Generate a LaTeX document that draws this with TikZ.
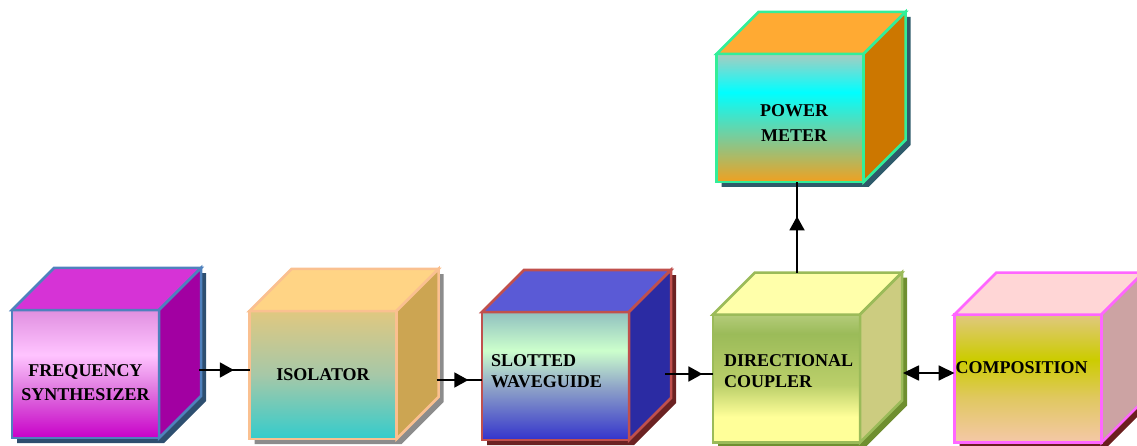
\documentclass[tikz,border=0pt]{standalone}
\usepackage{fontspec}
\setmainfont{Liberation Serif}
\usepackage{tikz}
\usetikzlibrary{arrows.meta,decorations.markings}

\pgfdeclarelayer{back}
\pgfsetlayers{back,main}

% face colours
\definecolor{fsynline}{HTML}{4F81BD}
\definecolor{fsyntop}{HTML}{D633D6}
\definecolor{fsynside}{HTML}{A200A2}
\definecolor{fsynshadow}{HTML}{2E4F70}
\definecolor{isoline}{HTML}{FAC090}
\definecolor{isotop}{HTML}{FFD485}
\definecolor{isoside}{HTML}{CCA552}
\definecolor{isoshadow}{HTML}{8C8C8C}
\definecolor{slotline}{HTML}{C0504D}
\definecolor{slottop}{HTML}{5A5AD6}
\definecolor{slotside}{HTML}{2B2BA3}
\definecolor{slotshadow}{HTML}{6B2222}
\definecolor{coupline}{HTML}{9BBB59}
\definecolor{couptop}{HTML}{FFFFAA}
\definecolor{coupside}{HTML}{CCCC80}
\definecolor{coupshadow}{HTML}{6F8F30}
\definecolor{compline}{HTML}{FF66FF}
\definecolor{comptop}{HTML}{FFD6D6}
\definecolor{compside}{HTML}{CCA3A3}
\definecolor{compshadow}{HTML}{6B1F1F}
\definecolor{pwrline}{HTML}{33EE99}
\definecolor{pwrtop}{HTML}{FFAA33}
\definecolor{pwrside}{HTML}{CC7700}
\definecolor{pwrshadow}{HTML}{2E5A6A}

% gradient stops
\definecolor{magenta1}{HTML}{C800C8}
\definecolor{magenta2}{HTML}{E27EE2}
\definecolor{magenta3}{HTML}{FFC4FF}
\definecolor{magenta4}{HTML}{E08FE0}
\definecolor{teal1}{HTML}{33CCCC}
\definecolor{teal2}{HTML}{A6C8A8}
\definecolor{tan1}{HTML}{E0C880}
\definecolor{blue1}{HTML}{3333CC}
\definecolor{blue2}{HTML}{8CA0C8}
\definecolor{mint1}{HTML}{CCFFCC}
\definecolor{mint2}{HTML}{90C0C0}
\definecolor{yellow1}{HTML}{FFFF99}
\definecolor{olive1}{HTML}{BBCF6A}
\definecolor{olive2}{HTML}{9BBB59}
\definecolor{olive3}{HTML}{B4CC7A}
\definecolor{peach1}{HTML}{F5C8A8}
\definecolor{gold1}{HTML}{E0C860}
\definecolor{gold2}{HTML}{CCCC00}
\definecolor{orange1}{HTML}{F0A020}
\definecolor{aqua1}{HTML}{7ACC9A}
\definecolor{aqua2}{HTML}{00FFFF}
\definecolor{aqua3}{HTML}{A8CCC0}

% front face gradients (bottom = 25bp, top = 75bp)
\pgfdeclareverticalshading{fsynshade}{100bp}{color(0bp)=(magenta1); color(25bp)=(magenta1);
  color(45bp)=(magenta2); color(57.5bp)=(magenta3); color(75bp)=(magenta4); color(100bp)=(magenta4)}
\pgfdeclareverticalshading{isoshade}{100bp}{color(0bp)=(teal1); color(25bp)=(teal1);
  color(50bp)=(teal2); color(75bp)=(tan1); color(100bp)=(tan1)}
\pgfdeclareverticalshading{slotshade}{100bp}{color(0bp)=(blue1); color(25bp)=(blue1);
  color(45bp)=(blue2); color(60bp)=(mint1); color(75bp)=(mint2); color(100bp)=(mint2)}
\pgfdeclareverticalshading{coupshade}{100bp}{color(0bp)=(yellow1); color(35bp)=(yellow1);
  color(47.5bp)=(olive1); color(67.5bp)=(olive2); color(75bp)=(olive3); color(100bp)=(olive3)}
\pgfdeclareverticalshading{compshade}{100bp}{color(0bp)=(peach1); color(25bp)=(peach1);
  color(42.5bp)=(gold1); color(57.5bp)=(gold2); color(75bp)=(tan1); color(100bp)=(tan1)}
\pgfdeclareverticalshading{pwrshade}{100bp}{color(0bp)=(orange1); color(25bp)=(orange1);
  color(42.5bp)=(aqua1); color(60bp)=(aqua2); color(75bp)=(aqua3); color(100bp)=(aqua3)}

% top face, right face and drop shadow of a box: node, top, side, shadow, outline
\newcommand{\cubesides}[5]{%
  \begin{pgfonlayer}{back}
    \fill[#4] ([shift={(5pt,-5pt)}]#1.north west) -- ([shift={(5pt,-5pt)}]#1.south west)
      -- ([shift={(5pt,-5pt)}]#1.south east) -- ([shift={(47pt,37pt)}]#1.south east)
      -- ([shift={(47pt,37pt)}]#1.north east) -- ([shift={(47pt,37pt)}]#1.north west) -- cycle;
  \end{pgfonlayer}
  \filldraw[fill=#2, draw=#5, line width=2.5pt] (#1.north west) -- ++(42pt,42pt)
    -- ([shift={(42pt,42pt)}]#1.north east) -- (#1.north east) -- cycle;
  \filldraw[fill=#3, draw=#5, line width=2.5pt] (#1.north east) -- ++(42pt,42pt)
    -- ([shift={(42pt,42pt)}]#1.south east) -- (#1.south east) -- cycle;
}

\tikzset{
  face/.style={draw=#1line, shading=#1shade, line width=2.5pt, minimum width=147pt, minimum height=128pt,
    outer sep=0pt, inner sep=0pt},
  caption/.style={inner sep=0pt, align=center, font=\bfseries\fontsize{18}{21}\selectfont},
  link/.style={line width=1.8pt},
  midarrow/.style={postaction=decorate, decoration={markings,
    mark=at position #1 with {\arrow{Triangle[length=14pt,width=15pt]}}}}
}

\begin{document}
\begin{tikzpicture}[x=1pt,y=-1pt]
    \useasboundingbox (0,0) rectangle (1137,446);

    % Boxes along the bench
    \node[face=fsyn] (fsyn) at (85.5,374) {};
    \cubesides{fsyn}{fsyntop}{fsynside}{fsynshadow}{fsynline}
    \node[caption] at ([yshift=-9pt]fsyn.center) {FREQUENCY\\[3pt]SYNTHESIZER};

    \node[face=iso] (iso) at (323,375) {};
    \cubesides{iso}{isotop}{isoside}{isoshadow}{isoline}
    \node[caption] at (iso.center) {ISOLATOR};

    \node[face=slot] (slot) at (555.5,376) {};
    \cubesides{slot}{slottop}{slotside}{slotshadow}{slotline}
    \node[caption, anchor=west, align=left] at ([shift={(9pt,4.5pt)}]slot.west) {SLOTTED\\WAVEGUIDE};

    \node[face=coup] (coup) at (786.5,378.5) {};
    \cubesides{coup}{couptop}{coupside}{coupshadow}{coupline}
    \node[caption, anchor=west, align=left] at ([shift={(11pt,7pt)}]coup.west) {DIRECTIONAL\\COUPLER};

    \node[face=comp] (comp) at (1028,378.5) {};
    \cubesides{comp}{comptop}{compside}{compshadow}{compline}
    \node[caption, anchor=west] at ([shift={(1pt,10.5pt)}]comp.west) {COMPOSITION};

    % Power meter above the coupler
    \node[face=pwr] (pwr) at (790,118) {};
    \cubesides{pwr}{pwrtop}{pwrside}{pwrshadow}{pwrline}
    \node[caption] at ([shift={(4pt,-5.5pt)}]pwr.center) {POWER\\[4pt]METER};

    % Signal path
    \draw[link, midarrow=0.69] ([shift={(40pt,4pt)}]fsyn.east) -- ([yshift=5pt]iso.west);
    \draw[link, midarrow=0.70] ([shift={(40pt,-5pt)}]iso.east) -- ([yshift=-4pt]slot.west);
    \draw[link, midarrow=0.78] ([shift={(36pt,2pt)}]slot.east) -- ([yshift=4.5pt]coup.west);
    \draw[link, {Triangle[length=16pt,width=15pt]}-{Triangle[length=16pt,width=15pt]}]
        ([shift={(43pt,5.5pt)}]coup.east) -- ([yshift=5.5pt]comp.west);
    \draw[link, midarrow=0.62] ([shift={(10.5pt,42pt)}]coup.north) -- ([xshift=7pt]pwr.south);
\end{tikzpicture}
\end{document}
